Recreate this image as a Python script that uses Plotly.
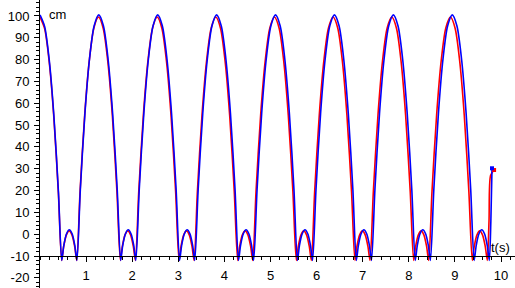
import plotly.graph_objects as go

# ---- data ----
blue_t = [
    0, 0.1, 0.2, 0.3, 0.4, 0.4715,
    0.516, 0.576, 0.636, 0.696, 0.756, 0.8005,
    0.875, 0.975, 1.075, 1.175, 1.275, 1.375, 1.475, 1.575, 1.675, 1.7495,
    1.794, 1.854, 1.914, 1.974, 2.034, 2.0785,
    2.153, 2.253, 2.353, 2.453, 2.553, 2.653, 2.753, 2.853, 2.953, 3.0275,
    3.072, 3.132, 3.192, 3.252, 3.312, 3.3565,
    3.431, 3.531, 3.631, 3.731, 3.831, 3.931, 4.031, 4.131, 4.231, 4.3055,
    4.35, 4.41, 4.47, 4.53, 4.59, 4.6345,
    4.709, 4.809, 4.909, 5.009, 5.109, 5.209, 5.309, 5.409, 5.509, 5.5835,
    5.628, 5.688, 5.748, 5.808, 5.868, 5.9125,
    5.987, 6.087, 6.187, 6.287, 6.387, 6.487, 6.587, 6.687, 6.787, 6.8615,
    6.906, 6.966, 7.026, 7.086, 7.146, 7.1905,
    7.265, 7.365, 7.465, 7.565, 7.665, 7.765, 7.865, 7.965, 8.065, 8.1395,
    8.184, 8.244, 8.304, 8.364, 8.424, 8.4685,
    8.543, 8.643, 8.743, 8.843, 8.943, 9.043, 9.143, 9.243, 9.343, 9.4175,
    9.462, 9.522, 9.582, 9.642, 9.702, 9.7465,
    9.78, 9.805,
]
blue_y = [
    100.5, 95.2, 79.9, 54.6, 19.3, -12,
    -5.2, 0.2, 2.0, 0.2, -5.2, -12,
    20.5, 55.5, 80.5, 95.5, 100.5, 95.5, 80.5, 55.5, 20.5, -12,
    -5.2, 0.2, 2.0, 0.2, -5.2, -12,
    20.5, 55.5, 80.5, 95.5, 100.5, 95.5, 80.5, 55.5, 20.5, -12,
    -5.2, 0.2, 2.0, 0.2, -5.2, -12,
    20.5, 55.5, 80.5, 95.5, 100.5, 95.5, 80.5, 55.5, 20.5, -12,
    -5.2, 0.2, 2.0, 0.2, -5.2, -12,
    20.5, 55.5, 80.5, 95.5, 100.5, 95.5, 80.5, 55.5, 20.5, -12,
    -5.2, 0.2, 2.0, 0.2, -5.2, -12,
    20.5, 55.5, 80.5, 95.5, 100.5, 95.5, 80.5, 55.5, 20.5, -12,
    -5.2, 0.2, 2.0, 0.2, -5.2, -12,
    20.5, 55.5, 80.5, 95.5, 100.5, 95.5, 80.5, 55.5, 20.5, -12,
    -5.2, 0.2, 2.0, 0.2, -5.2, -12,
    20.5, 55.5, 80.5, 95.5, 100.5, 95.5, 80.5, 55.5, 20.5, -12,
    -5.2, 0.2, 2.0, 0.2, -5.2, -12,
    6, 30.2,
]

red_t = [
    0, 0.1, 0.2, 0.3, 0.4, 0.47,
    0.513, 0.573, 0.633, 0.693, 0.753, 0.7975,
    0.869, 0.969, 1.069, 1.169, 1.269, 1.369, 1.469, 1.569, 1.669, 1.7435,
    1.785, 1.845, 1.905, 1.965, 2.025, 2.0695,
    2.142, 2.242, 2.342, 2.442, 2.542, 2.642, 2.742, 2.842, 2.942, 3.0165,
    3.058, 3.118, 3.178, 3.238, 3.298, 3.3425,
    3.414, 3.514, 3.614, 3.714, 3.814, 3.914, 4.014, 4.114, 4.214, 4.2885,
    4.33, 4.39, 4.45, 4.51, 4.57, 4.6145,
    4.686, 4.786, 4.886, 4.986, 5.086, 5.186, 5.286, 5.386, 5.486, 5.5605,
    5.602, 5.662, 5.722, 5.782, 5.842, 5.8865,
    5.958, 6.058, 6.158, 6.258, 6.358, 6.458, 6.558, 6.658, 6.758, 6.8325,
    6.874, 6.934, 6.994, 7.054, 7.114, 7.1585,
    7.231, 7.331, 7.431, 7.531, 7.631, 7.731, 7.831, 7.931, 8.031, 8.1055,
    8.147, 8.207, 8.267, 8.327, 8.387, 8.4315,
    8.503, 8.603, 8.703, 8.803, 8.903, 9.003, 9.103, 9.203, 9.303, 9.3775,
    9.419, 9.479, 9.539, 9.599, 9.659, 9.7035,
    9.74, 9.775, 9.85,
]
red_y = [
    99.5, 94.2, 78.9, 53.6, 18.3, -12,
    -5.7, -0.3, 1.5, -0.3, -5.7, -12,
    19.5, 54.5, 79.5, 94.5, 99.5, 94.5, 79.5, 54.5, 19.5, -12,
    -5.7, -0.3, 1.5, -0.3, -5.7, -12,
    19.5, 54.5, 79.5, 94.5, 99.5, 94.5, 79.5, 54.5, 19.5, -12,
    -5.7, -0.3, 1.5, -0.3, -5.7, -12,
    19.5, 54.5, 79.5, 94.5, 99.5, 94.5, 79.5, 54.5, 19.5, -12,
    -5.7, -0.3, 1.5, -0.3, -5.7, -12,
    19.5, 54.5, 79.5, 94.5, 99.5, 94.5, 79.5, 54.5, 19.5, -12,
    -5.7, -0.3, 1.5, -0.3, -5.7, -12,
    19.5, 54.5, 79.5, 94.5, 99.5, 94.5, 79.5, 54.5, 19.5, -12,
    -5.7, -0.3, 1.5, -0.3, -5.7, -12,
    19.5, 54.5, 79.5, 94.5, 99.5, 94.5, 79.5, 54.5, 19.5, -12,
    -5.7, -0.3, 1.5, -0.3, -5.7, -12,
    19.5, 54.5, 79.5, 94.5, 99.5, 94.5, 79.5, 54.5, 19.5, -12,
    -5.7, -0.3, 1.5, -0.3, -5.7, -12,
    6, 27, 29.4,
]

x_tick_vals = [1, 2, 3, 4, 5, 6, 7, 8, 9, 10]
x_tick_text = ["1", "2", "3", "4", "5", "6", "7", "8", "9", "10"]
y_tick_vals = [-20, -10, 0, 10, 20, 30, 40, 50, 60, 70, 80, 90, 100]
y_tick_text = ["-20", "-10", "0", "10", "20", "30", "40", "50", "60", "70", "80", "90", "100"]

W, H = 515, 288
X_AXIS_PX = 40          # y-axis position from left
PX_PER_X = 46.1
Y_AXIS_PX = 256         # x-axis (y=-10) position from top
PX_PER_Y = 2.182

x_range = [0, (W - X_AXIS_PX) / PX_PER_X]
y_range = [-10 - (H - Y_AXIS_PX) / PX_PER_Y, -10 + Y_AXIS_PX / PX_PER_Y]

font = dict(family="Liberation Sans, Arial, sans-serif", size=13, color="black")

fig = go.Figure()
fig.add_trace(go.Scatter(x=red_t, y=red_y, mode="lines",
                         line=dict(color="#ff0000", width=1.6, shape="spline", smoothing=0.8),
                         hoverinfo="skip"))
fig.add_trace(go.Scatter(x=blue_t, y=blue_y, mode="lines",
                         line=dict(color="#0000ff", width=1.6, shape="spline", smoothing=0.8),
                         hoverinfo="skip"))
fig.add_trace(go.Scatter(x=[red_t[-1]], y=[red_y[-1]], mode="markers",
                         marker=dict(color="#ff0000", size=4, symbol="square"),
                         hoverinfo="skip"))
fig.add_trace(go.Scatter(x=[blue_t[-1]], y=[blue_y[-1]], mode="markers",
                         marker=dict(color="#0000ff", size=4, symbol="square"),
                         hoverinfo="skip"))

fig.update_layout(
    width=W, height=H, autosize=False,
    margin=dict(l=0, r=0, t=0, b=0, pad=0),
    paper_bgcolor="white", plot_bgcolor="white",
    showlegend=False,
    font=font,
    xaxis=dict(
        domain=[X_AXIS_PX / W, 1], range=x_range,
        anchor="free", position=(H - Y_AXIS_PX) / H,
        showgrid=False, zeroline=False,
        showline=True, linecolor="black", linewidth=1,
        ticks="outside", ticklen=5, tickwidth=1, tickcolor="black",
        tickmode="array", tickvals=x_tick_vals, ticktext=x_tick_text,
        ticklabelstandoff=2,
        minor=dict(tickmode="linear", tick0=0, dtick=0.2, ticks="outside",
                   ticklen=3, tickwidth=1, tickcolor="black", showgrid=False),
        tickfont=font,
    ),
    yaxis=dict(
        domain=[0, 1], range=y_range,
        anchor="x",
        showgrid=False, zeroline=False,
        showline=True, linecolor="black", linewidth=1,
        ticks="outside", ticklen=5, tickwidth=1, tickcolor="black",
        tickmode="array", tickvals=y_tick_vals, ticktext=y_tick_text,
        ticklabelstandoff=2,
        minor=dict(tickmode="linear", tick0=0, dtick=2, ticks="outside",
                   ticklen=3, tickwidth=1, tickcolor="black", showgrid=False),
        tickfont=font,
    ),
    annotations=[
        dict(text="cm", xref="paper", yref="paper",
             x=47 / W, y=1 - 14.5 / H, xanchor="left", yanchor="middle",
             showarrow=False, font=font),
        dict(text="t(s)", xref="paper", yref="paper",
             x=512 / W, y=1 - 247 / H, xanchor="right", yanchor="middle",
             showarrow=False, font=font),
    ],
)

fig.write_html("out.html")
